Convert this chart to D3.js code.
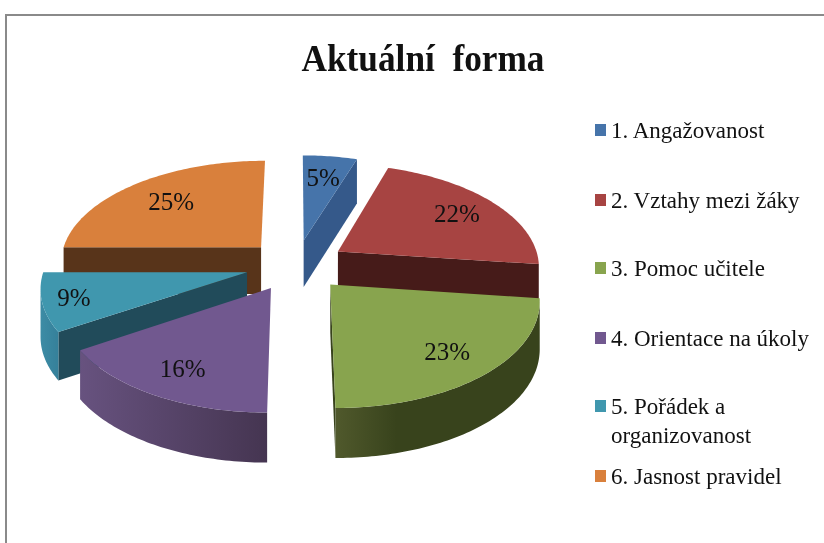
<!DOCTYPE html>
<html>
<head>
<meta charset="utf-8">
<script src="https://cdn.jsdelivr.net/npm/d3@7"></script>
<style>
    html, body { margin: 0; padding: 0; background: #fff; }
    svg { display: block; filter: blur(0.4px); }
    text { font-family: "Liberation Serif", "Times New Roman", serif; fill: #111; }
</style>
</head>
<body>
<svg id="chart" width="824" height="543"></svg>
<script>
const titleText = 'Aktuální  forma';
const categories = ['1. Angažovanost', '2. Vztahy mezi žáky', '3. Pomoc učitele', '4. Orientace na úkoly', '5. Pořádek a|organizovanost', '6. Jasnost pravidel'];
const shares = [5, 22, 23, 16, 9, 25];

const topColors = ['#4674aa', '#a74442', '#88a44e', '#71588f', '#4097ae', '#d9803c'];
const cutColors = ['#35598a', '#461b19', '#38431c', '#453551', '#214b5a', '#58341a'];
// rim colour on the left and on the right of each slice
const rimColors = [['#35598a', '#35598a'], ['#461b19', '#461b19'], ['#50592c', '#38431c'],
                   ['#67527f', '#453551'], ['#3d8ca5', '#35809a'], ['#58341a', '#58341a']];
// where along the rim the right colour is reached
const rimFade = [1, 1, 0.3, 1, 1, 1];
// painter's order, back to front
const drawOrder = [5, 0, 1, 4, 2, 3];
const labelRadius = [0.72, 0.76, 0.77, 0.78, 0.85, 0.7];
const legendRows = [138, 208, 276, 346, 414, 484];

const explode = 0.25, persp = 0.129;

let svg = d3.select('#chart');
let defs = svg.append('defs');

// flat pie coordinates (-1..1 is one radius) to screen pixels
let xScale = d3.scaleLinear().domain([-1, 1]).range([296 - 202, 296 + 202]);
let yScale = d3.scaleLinear().domain([-1, 1]).range([265 - 102, 265 + 102]);

function project(X, Y) {
    let d = 1 / (1 - persp * Y);
    return {
        x: xScale(X * d),
        y: yScale(Y * d),
        h: 47 / (1 - 0.05 * Y)
    };
}

let slices = d3.pie().sort(null).value(d => d)(shares);
let line = d3.line().x(d => d.x).y(d => d.y);

let parts = slices.map((s, i) => {
    let mid = (s.startAngle + s.endAngle) / 2;
    let ex = explode * Math.sin(mid), ey = -explode * Math.cos(mid);
    let angles = d3.range(s.startAngle, s.endAngle, Math.PI / 180).concat([s.endAngle]);
    return {
        i: i, mid: mid, ex: ex, ey: ey,
        apex: project(ex, ey),
        rim: angles.map(a => project(ex + Math.sin(a), ey - Math.cos(a)))
    };
});

function drop(a, b) {
    return [a, b, { x: b.x, y: b.y + b.h }, { x: a.x, y: a.y + a.h }];
}

function closedPath(points) {
    return line(points) + 'Z';
}

drawOrder.forEach(i => {
    let p = parts[i];
    let g = svg.append('g').attr('class', 'slice');
    let first = p.rim[0], last = p.rim[p.rim.length - 1];

    // cut faces turned to the viewer, slivers under 4.5px are left out
    if (first.x < p.apex.x - 4.5) {
        g.append('path').attr('d', closedPath(drop(p.apex, first))).attr('fill', cutColors[i]);
    }
    if (p.apex.x < last.x - 4.5) {
        g.append('path').attr('d', closedPath(drop(last, p.apex))).attr('fill', cutColors[i]);
    }

    // outer rim, only the part running right to left faces us
    let front = d3.pairs(p.rim).filter(pair => pair[1].x < pair[0].x);
    if (front.length) {
        let upper = [front[0][0]].concat(front.map(pair => pair[1]));
        let lower = upper.map(d => ({ x: d.x, y: d.y + d.h })).reverse();
        let grad = defs.append('linearGradient')
            .attr('id', 'rim' + i)
            .attr('gradientUnits', 'userSpaceOnUse')
            .attr('x1', upper[upper.length - 1].x)
            .attr('x2', upper[0].x)
            .attr('y1', 0)
            .attr('y2', 0);
        grad.append('stop').attr('offset', 0).attr('stop-color', rimColors[i][0]);
        grad.append('stop').attr('offset', rimFade[i]).attr('stop-color', rimColors[i][1]);
        g.append('path')
            .attr('d', closedPath(upper.concat(lower)))
            .attr('fill', 'url(#rim' + i + ')');
    }

    g.append('path')
        .attr('d', closedPath([p.apex].concat(p.rim)))
        .attr('fill', topColors[i]);
});

// percent labels
parts.forEach(p => {
    let r = labelRadius[p.i];
    let at = project(p.ex + r * Math.sin(p.mid), p.ey - r * Math.cos(p.mid));
    svg.append('text')
        .attr('x', at.x)
        .attr('y', at.y)
        .attr('dy', '.33em')
        .attr('text-anchor', 'middle')
        .style('font-size', '25px')
        .text(shares[p.i] + '%');
});

// frame, only top and left are on the picture
svg.append('path')
    .attr('d', 'M6 543V15H824')
    .attr('fill', 'none')
    .attr('stroke', '#8a8a8a')
    .attr('stroke-width', 2);

svg.append('text')
    .attr('x', 423)
    .attr('y', 71)
    .attr('text-anchor', 'middle')
    .attr('textLength', 243)
    .attr('lengthAdjust', 'spacingAndGlyphs')
    .style('font-size', '37px')
    .style('font-weight', 'bold')
    .style('white-space', 'pre')
    .text(titleText);

// legend
categories.forEach((c, i) => {
    let y = legendRows[i];
    svg.append('rect')
        .attr('x', 595)
        .attr('y', y - 14)
        .attr('width', 11)
        .attr('height', 12)
        .attr('fill', topColors[i]);
    c.split('|').forEach((t, k) => {
        svg.append('text')
            .attr('x', 611)
            .attr('y', y + k * 29)
            .style('font-size', '23px')
            .text(t);
    });
});
</script>
</body>
</html>
